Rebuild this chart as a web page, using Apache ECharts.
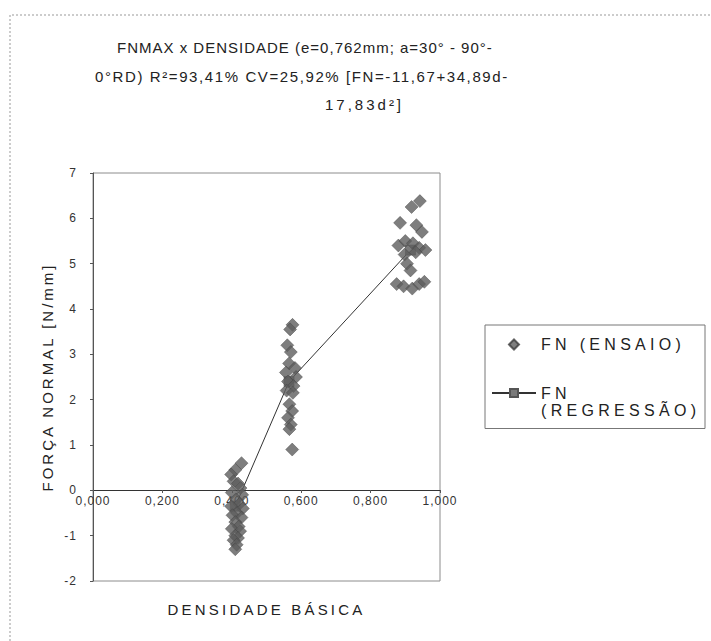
<!DOCTYPE html>
<html>
<head>
<meta charset="utf-8">
<script src="https://cdn.jsdelivr.net/npm/echarts@6/dist/echarts.min.js"></script>
<style>
html,body{margin:0;padding:0;background:#fff;}
#c{width:711px;height:641px;}
#c text{letter-spacing:1px;}
</style>
</head>
<body>
<div id="c"></div>
<script>
// ---- data ----
var titleLines = [
  'FNMAX x DENSIDADE (e=0,762mm; a=30° - 90°-',
  '0°RD) R²=93,41% CV=25,92% [FN=-11,67+34,89d-',
  '17,83d²]'
];
var xTicks = [0, 0.2, 0.4, 0.6, 0.8, 1.0];
var yTicks = [-2, -1, 0, 1, 2, 3, 4, 5, 6, 7];

// FN (ENSAIO) measured points: density and normal force
var ensaioD = [
  0.428,0.410,0.398,0.405,0.418,0.425,0.400,0.430,0.412,0.422,0.398,0.432,0.415,0.402,0.428,0.410,0.420,0.400,0.424,0.410,0.418,0.405,0.414,0.410,
  0.575,0.568,0.560,0.570,0.565,0.582,0.556,0.585,0.562,0.578,0.558,0.576,0.566,0.574,0.562,0.570,0.566,0.574,
  0.918,0.942,0.885,0.932,0.948,0.880,0.900,0.922,0.940,0.958,0.898,0.930,0.905,0.915,0.875,0.895,0.920,0.940,0.955
];
var ensaioFN = [
  0.60,0.45,0.35,0.20,0.15,0.05,-0.05,-0.10,-0.20,-0.30,-0.35,-0.40,-0.50,-0.55,-0.60,-0.70,-0.80,-0.85,-0.90,-1.00,-1.05,-1.10,-1.20,-1.30,
  3.65,3.55,3.20,3.05,2.80,2.70,2.60,2.50,2.40,2.30,2.20,2.15,1.90,1.75,1.60,1.45,1.35,0.90,
  6.25,6.38,5.90,5.85,5.70,5.40,5.50,5.45,5.35,5.30,5.20,5.25,5.00,4.85,4.55,4.50,4.45,4.55,4.60
];
// FN (REGRESSÃO) line points
var regD  = [0.41, 0.565, 0.915];
var regFN = [-0.35, 2.40, 5.30];

var seriesNames = ['FN (ENSAIO)', 'FN (REGRESSÃO)'];
var xName = 'DENSIDADE BÁSICA';
var yName = 'FORÇA NORMAL [N/mm]';

// ---- build ----
var ensaio = ensaioD.map(function(d,i){ return [d, ensaioFN[i]]; });
var reg = regD.map(function(d,i){ return [d, regFN[i]]; });

var FONT = '"Liberation Sans", Arial, sans-serif';
var titleStyle = {fontSize:15, fontWeight:'normal', color:'#222', fontFamily:FONT};
var chart = echarts.init(document.getElementById('c'), null, {renderer:'svg'});
chart.setOption({
  animation: false,
  backgroundColor: '#fff',
  textStyle: {fontFamily: FONT},
  title: [
    {text: titleLines[0], left: 112, top: 35, textStyle: titleStyle},
    {text: titleLines[1], left: 90, top: 64, textStyle: titleStyle},
    {text: titleLines[2], left: 320, top: 92, textStyle: titleStyle}
  ],
  grid: {left: 93, right: 271, top: 173, bottom: 60, show: true, borderColor: '#8c8c8c', borderWidth: 1,
         outerBoundsMode: 'none', containLabel: false},
  xAxis: {
    type: 'value', min: 0, max: 1, interval: 0.2,
    offset: -91,
    name: xName, nameLocation: 'middle', nameGap: 112,
    nameTextStyle: {fontSize: 15, color:'#222', fontFamily:FONT},
    axisLine: {onZero: false, lineStyle: {color: '#333', width: 1}},
    axisTick: {show: true, length: 3, lineStyle:{color:'#555'}},
    axisLabel: {fontSize: 12, color: '#333', margin: 5,
      formatter: function(v){ return v.toFixed(3).replace('.', ','); }},
    splitLine: {show: false}
  },
  yAxis: {
    type: 'value', min: -2, max: 7, interval: 1,
    name: yName, nameLocation: 'middle', nameGap: 38,
    nameTextStyle: {fontSize: 15, color:'#222', fontFamily:FONT},
    axisLine: {show: true, onZero: false, lineStyle: {color: '#555', width: 1}},
    axisTick: {show: true, length: 3, lineStyle:{color:'#555'}},
    axisLabel: {fontSize: 12, color: '#333', margin: 16},
    splitLine: {show: false}
  },
  legend: {
    orient: 'vertical', left: 485, top: 325,
    padding: [11, 52, 10, 6], itemGap: 14.5,
    itemWidth: 44, itemHeight: 10,
    borderColor: '#777', borderWidth: 1,
    textStyle: {fontSize: 16, color: '#222', lineHeight: 17, fontFamily: FONT},
    formatter: function(n){ return n === seriesNames[1] ? ' \nFN\n(REGRESSÃO)' : n; },
    data: [
      {name: seriesNames[0], icon: 'path://M5,0L10,5L5,10L0,5Z'},
      {name: seriesNames[1]}
    ]
  },
  graphic: [
    {type: 'polyline', silent: true, shape: {points: [[10, 641], [10, 15], [711, 15]]},
     style: {stroke: '#999', lineWidth: 1, lineDash: [2, 2], fill: null}}
  ],
  series: [
    {
      name: seriesNames[0], type: 'scatter', data: ensaio,
      symbol: 'diamond', symbolSize: 13,
      itemStyle: {color: '#5e5e5e', borderColor: '#3c3c3c', borderWidth: 0.5},
      z: 3
    },
    {
      name: seriesNames[1], type: 'line', data: reg,
      symbol: 'rect', symbolSize: 10, showSymbol: true,
      lineStyle: {color: '#333', width: 1},
      itemStyle: {color: '#7a7a7a', borderColor: '#555', borderWidth: 0.6},
      z: 2
    }
  ]
});

// text letter spacing (visual only)
var spacing = {};
spacing['FN (ENSAIO)'] = '4.3px';
spacing['FN'] = '4.3px';
spacing['(REGRESSÃO)'] = '4.3px';
spacing[xName] = '3.2px';
spacing[yName] = '3px';
spacing[titleLines[1]] = '1.6px';
spacing[titleLines[2]] = '3px';
function applySpacing(){
  var ts = document.querySelectorAll('#c text, #c tspan');
  for (var i = 0; i < ts.length; i++) {
    var t = ts[i].textContent;
    if (spacing[t]) ts[i].style.letterSpacing = spacing[t];
  }
}
chart.on('finished', applySpacing);
applySpacing();
setTimeout(applySpacing, 50);
</script>
</body>
</html>
